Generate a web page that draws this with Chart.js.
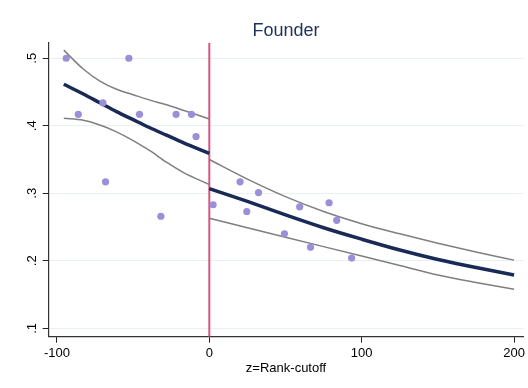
<!DOCTYPE html>
<html lang="en">
<head>
  <meta charset="UTF-8" />
  <title>Founder - RD plot</title>
  <script src="https://cdn.jsdelivr.net/npm/chart.js"></script>
  <style>
    html, body {
      margin: 0;
      padding: 0;
      background: #ffffff;
    }
    .chart-box {
      width: 528px;
      height: 388px;
    }
  </style>
</head>
<body>
  <div class="chart-box"><canvas id="rdChart"></canvas></div>

  <script>
    // binned scatter
    const binX = [-93.9, -86, -69.8, -68.1, -52.8, -45.8, -31.8, -21.8, -11.7, -8.7,
                  2.5, 20.2, 24.6, 32.3, 49.3, 59.3, 66.4, 78.6, 83.6, 93.4];
    const binY = [0.5, 0.417, 0.434, 0.317, 0.5, 0.417, 0.266, 0.417, 0.417, 0.384,
                  0.283, 0.317, 0.273, 0.301, 0.240, 0.280, 0.220, 0.286, 0.260, 0.204];

    // fit + CI, left of the cutoff
    const leftX = [-95.5, -82.7, -71.8, -60.9, -50, -39, -28.1, -17.2, 0];
    const leftFit = [0.4615, 0.447, 0.434, 0.421, 0.409, 0.397, 0.386, 0.375, 0.359];
    const leftUpper = [0.512, 0.484, 0.466, 0.454, 0.446, 0.438, 0.431, 0.423, 0.410];
    const leftLower = [0.411, 0.408, 0.401, 0.391, 0.378, 0.363, 0.346, 0.331, 0.313];

    // fit + CI, right of the cutoff
    const rightX = [0, 25, 50, 75, 100, 125, 150, 175, 200];
    const rightFit = [0.307, 0.288, 0.268, 0.249, 0.232, 0.216, 0.202, 0.190, 0.179];
    const rightUpper = [0.350, 0.321, 0.295, 0.273, 0.255, 0.240, 0.226, 0.213, 0.201];
    const rightLower = [0.263, 0.249, 0.235, 0.221, 0.207, 0.193, 0.179, 0.168, 0.158];

    const xTicks = [-100, 0, 100, 200];
    const yTicks = [0.1, 0.2, 0.3, 0.4, 0.5];
    const yTickLabels = ['.1', '.2', '.3', '.4', '.5'];

    const xMin = -105.4, xMax = 206.1;
    const yMin = 0.0876, yMax = 0.523;

    const toPts = (xs, ys) => xs.map((x, i) => ({ x: x, y: ys[i] }));

    const FONT = "'Liberation Sans', Arial, sans-serif";

    // title centred on the plot area + rotated y labels (Stata style)
    const stataBits = {
      id: 'stataBits',
      afterDraw(chart) {
        const ctx = chart.ctx;
        const area = chart.chartArea;
        const ys = chart.scales.y;
        ctx.save();
        ctx.fillStyle = '#1e2f5a';
        ctx.font = '18px ' + FONT;
        ctx.textAlign = 'center';
        ctx.textBaseline = 'alphabetic';
        ctx.fillText('Founder', (area.left + area.right) / 2, 36);

        ctx.fillStyle = '#000';
        ctx.font = '13px ' + FONT;
        ctx.textBaseline = 'middle';
        yTicks.forEach((v, i) => {
          const py = ys.getPixelForValue(v);
          ctx.save();
          ctx.translate(32, py);
          ctx.rotate(-Math.PI / 2);
          ctx.fillText(yTickLabels[i], 0, 0);
          ctx.restore();
        });
        ctx.restore();
      }
    };

    const ciLine = (data) => ({
      data: data,
      showLine: true,
      borderColor: '#7f7f7f',
      borderWidth: 1.5,
      pointRadius: 0,
      cubicInterpolationMode: 'monotone',
      fill: false
    });

    const fitLine = (data) => ({
      data: data,
      showLine: true,
      borderColor: '#1a2a56',
      borderWidth: 3.5,
      pointRadius: 0,
      cubicInterpolationMode: 'monotone',
      fill: false
    });

    new Chart(document.getElementById('rdChart'), {
      type: 'scatter',
      data: {
        datasets: [
          {
            data: binX.map((x, i) => ({ x: x, y: binY[i] })),
            backgroundColor: '#9a8fd8',
            borderColor: '#9a8fd8',
            pointRadius: 3.6,
            pointBorderWidth: 0,
            order: 0
          },
          Object.assign(fitLine(toPts(leftX, leftFit)), { order: 1 }),
          Object.assign(fitLine(toPts(rightX, rightFit)), { order: 1 }),
          Object.assign(ciLine(toPts(leftX, leftUpper)), { order: 2 }),
          Object.assign(ciLine(toPts(leftX, leftLower)), { order: 2 }),
          Object.assign(ciLine(toPts(rightX, rightUpper)), { order: 2 }),
          Object.assign(ciLine(toPts(rightX, rightLower)), { order: 2 }),
          {
            // cutoff
            data: [{ x: 0, y: yMin }, { x: 0, y: yMax }],
            showLine: true,
            borderColor: '#d8557a',
            borderWidth: 2,
            pointRadius: 0,
            order: 3
          }
        ]
      },
      options: {
        responsive: true,
        maintainAspectRatio: false,
        animation: false,
        layout: { padding: { top: 42.7, right: 4, left: 0, bottom: 0 } },
        plugins: {
          legend: { display: false },
          title: { display: false },
          tooltip: { enabled: false }
        },
        scales: {
          x: {
            type: 'linear',
            min: xMin,
            max: xMax,
            afterBuildTicks: (s) => { s.ticks = xTicks.map(v => ({ value: v })); },
            afterFit: (s) => { s.height = 51.3; },
            grid: {
              drawOnChartArea: false,
              tickLength: 6,
              tickColor: '#222',
              tickWidth: 1
            },
            border: { color: '#333', width: 1.2 },
            ticks: {
              color: '#000',
              font: { family: FONT, size: 13 },
              padding: 3,
              maxRotation: 0,
              callback: (v) => String(v)
            },
            title: {
              display: true,
              text: 'z=Rank-cutoff',
              color: '#000',
              font: { family: FONT, size: 13 },
              padding: { top: 0, bottom: 12 }
            }
          },
          y: {
            type: 'linear',
            min: yMin,
            max: yMax,
            afterBuildTicks: (s) => { s.ticks = yTicks.map(v => ({ value: v })); },
            afterFit: (s) => { s.width = 48.7; },
            grid: {
              color: '#e8f0f1',
              lineWidth: 1,
              tickLength: 6,
              tickColor: '#222',
              tickWidth: 1
            },
            border: { color: '#333', width: 1.2 },
            ticks: {
              display: false
            }
          }
        }
      },
      plugins: [stataBits]
    });
  </script>
</body>
</html>
